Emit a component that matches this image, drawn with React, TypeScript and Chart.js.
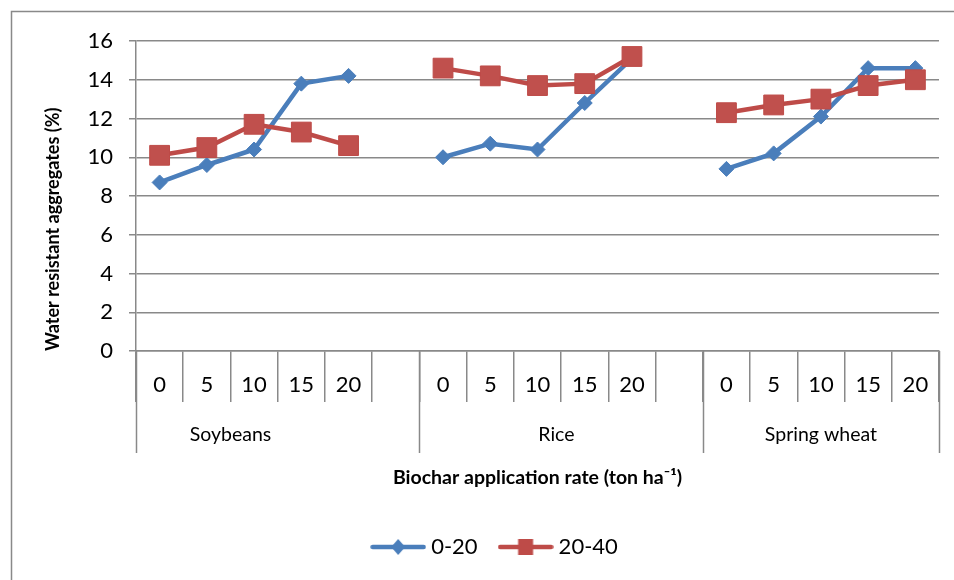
import React, { useEffect, useRef } from 'react';
import { Chart, registerables } from 'chart.js';

Chart.register(...registerables);

const categories = ['0', '5', '10', '15', '20', '', '0', '5', '10', '15', '20', '', '0', '5', '10', '15', '20'];
const groupLabels = ['Soybeans', 'Rice', 'Spring wheat'];
const groupSizes = [6, 6, 5];
const seriesNames = ['0-20', '20-40'];
const depth0to20 = [8.7, 9.6, 10.4, 13.8, 14.2, null, 10.0, 10.7, 10.4, 12.8, 15.1, null, 9.4, 10.2, 12.1, 14.6, 14.6];
const depth20to40 = [10.1, 10.5, 11.7, 11.3, 10.6, null, 14.6, 14.2, 13.7, 13.8, 15.2, null, 12.3, 12.7, 13.0, 13.7, 14.0];
const yTicks = [0, 2, 4, 6, 8, 10, 12, 14, 16];

const BLUE = '#4A7EBB';
const RED = '#BE4B48';
const GRID = '#898989';
const FONT = 'Lato, "Open Sans", sans-serif';

function legendIcon(color: string, kind: 'diamond' | 'square'): HTMLCanvasElement {
  const c = document.createElement('canvas');
  c.width = 56;
  c.height = 22;
  const ctx = c.getContext('2d')!;
  ctx.strokeStyle = color;
  ctx.lineWidth = 4.5;
  ctx.lineCap = 'round';
  ctx.beginPath();
  ctx.moveTo(2.5, 11);
  ctx.lineTo(53.5, 11);
  ctx.stroke();
  ctx.fillStyle = color;
  ctx.beginPath();
  if (kind === 'diamond') {
    ctx.moveTo(28, 3);
    ctx.lineTo(35, 11);
    ctx.lineTo(28, 19);
    ctx.lineTo(21, 11);
    ctx.closePath();
  } else {
    ctx.rect(20.5, 3, 15, 16);
  }
  ctx.fill();
  return c;
}

const decorPlugin = {
  id: 'decor',
  beforeDraw(chart: any) {
    const ctx = chart.ctx;
    ctx.save();
    ctx.strokeStyle = GRID;
    ctx.lineWidth = 1.5;
    ctx.beginPath();
    ctx.moveTo(11.5, chart.height + 5);
    ctx.lineTo(11.5, 11.5);
    ctx.lineTo(chart.width + 5, 11.5);
    ctx.stroke();
    ctx.restore();
  },
  afterDraw(chart: any) {
    const x = chart.scales.x;
    const ctx = chart.ctx;
    const top = chart.chartArea.bottom;
    ctx.save();
    ctx.strokeStyle = GRID;
    ctx.lineWidth = 1.5;
    let start = 0;
    const bounds = [-0.5];
    groupSizes.forEach((n) => {
      start += n;
      bounds.push(start - 0.5);
    });
    bounds.forEach((b) => {
      const px = Math.round(x.getPixelForValue(b)) + 0.5;
      ctx.beginPath();
      ctx.moveTo(px, top);
      ctx.lineTo(px, top + 102);
      ctx.stroke();
    });
    const anchors = [1.5, 8.4, 14.0];
    ctx.fillStyle = '#000';
    ctx.font = '19.5px ' + FONT;
    ctx.textAlign = 'center';
    ctx.textBaseline = 'middle';
    groupLabels.forEach((g, i) => {
      ctx.fillText(g, x.getPixelForValue(anchors[i]), top + 84);
    });
    ctx.restore();
  },
};

export default function App() {
  const ref = useRef<HTMLCanvasElement | null>(null);
  useEffect(() => {
    const canvas = ref.current;
    if (!canvas) return;
    const blueIcon = legendIcon(BLUE, 'diamond');
    const redIcon = legendIcon(RED, 'square');
    const chart = new Chart(canvas, {
      type: 'line',
      data: {
        labels: categories,
        datasets: [
          {
            label: seriesNames[0],
            data: depth0to20,
            borderColor: BLUE,
            backgroundColor: BLUE,
            borderWidth: 4.5,
            pointStyle: 'rectRot',
            pointRadius: 7.5,
            pointBorderWidth: 1,
            pointBackgroundColor: BLUE,
            pointBorderColor: BLUE,
            spanGaps: false,
            tension: 0,
            order: 2,
          },
          {
            label: seriesNames[1],
            data: depth20to40,
            borderColor: RED,
            backgroundColor: '#C0504D',
            borderWidth: 4.5,
            pointStyle: 'rect',
            pointRadius: 14,
            pointBorderWidth: 1,
            pointBackgroundColor: '#C0504D',
            pointBorderColor: RED,
            spanGaps: false,
            tension: 0,
            order: 1,
          },
        ],
      },
      options: {
        responsive: false,
        animation: false,
        layout: { padding: { left: 55, right: 15, top: 41, bottom: 12 } },
        font: { family: FONT },
        scales: {
          x: {
            type: 'category',
            offset: true,
            grid: {
              offset: true,
              drawOnChartArea: false,
              drawTicks: true,
              tickLength: 51,
              color: GRID,
              lineWidth: 1.5,
            },
            border: { display: true, color: GRID, width: 1.5 },
            ticks: {
              autoSkip: false,
              maxRotation: 0,
              padding: -30,
              color: '#000',
              font: { family: FONT, size: 22 },
            },
            title: {
              display: true,
              text: 'Biochar application rate (ton ha\u207B\u00B9)',
              color: '#000',
              font: { family: FONT, size: 19.5, weight: 'bold' },
              padding: { top: 0, bottom: 20.3 },
            },
            afterFit: (s: any) => {
              s.height = 159;
            },
          },
          y: {
            min: 0,
            max: 16,
            afterBuildTicks: (s: any) => {
              s.ticks = yTicks.map((v) => ({ value: v }));
            },
            grid: {
              color: GRID,
              lineWidth: 1.5,
              tickLength: 7,
            },
            border: { display: true, color: GRID, width: 1.5 },
            ticks: {
              padding: 16,
              color: '#000',
              font: { family: FONT, size: 22 },
            },
            title: {
              display: true,
              align: 'start',
              text: 'Water resistant aggregates (%)',
              color: '#000',
              font: { family: FONT, size: 18, weight: 'bold' },
              padding: { top: -12.8, bottom: 0 },
            },
            afterFit: (s: any) => {
              s.width = 81;
            },
          },
        },
        plugins: {
          tooltip: { enabled: false },
          legend: {
            display: true,
            position: 'bottom',
            labels: {
              usePointStyle: true,
              pointStyleWidth: 44,
              padding: 26,
              color: '#000',
              font: { family: FONT, size: 22 },
              generateLabels: (c: any) => {
                const items = Chart.defaults.plugins.legend.labels.generateLabels(c);
                items.sort((a: any, b: any) => a.datasetIndex - b.datasetIndex);
                items.forEach((it: any) => {
                  it.pointStyle = it.datasetIndex === 0 ? blueIcon : redIcon;
                });
                return items;
              },
            },
          },
        },
      },
      plugins: [decorPlugin],
    });
    return () => chart.destroy();
  }, []);
  return (
    <div style={{ position: 'absolute', left: 0, top: 0, width: 954, height: 580, background: '#fff' }}>
      <canvas ref={ref} width={954} height={580} style={{ display: 'block' }} />
    </div>
  );
}
